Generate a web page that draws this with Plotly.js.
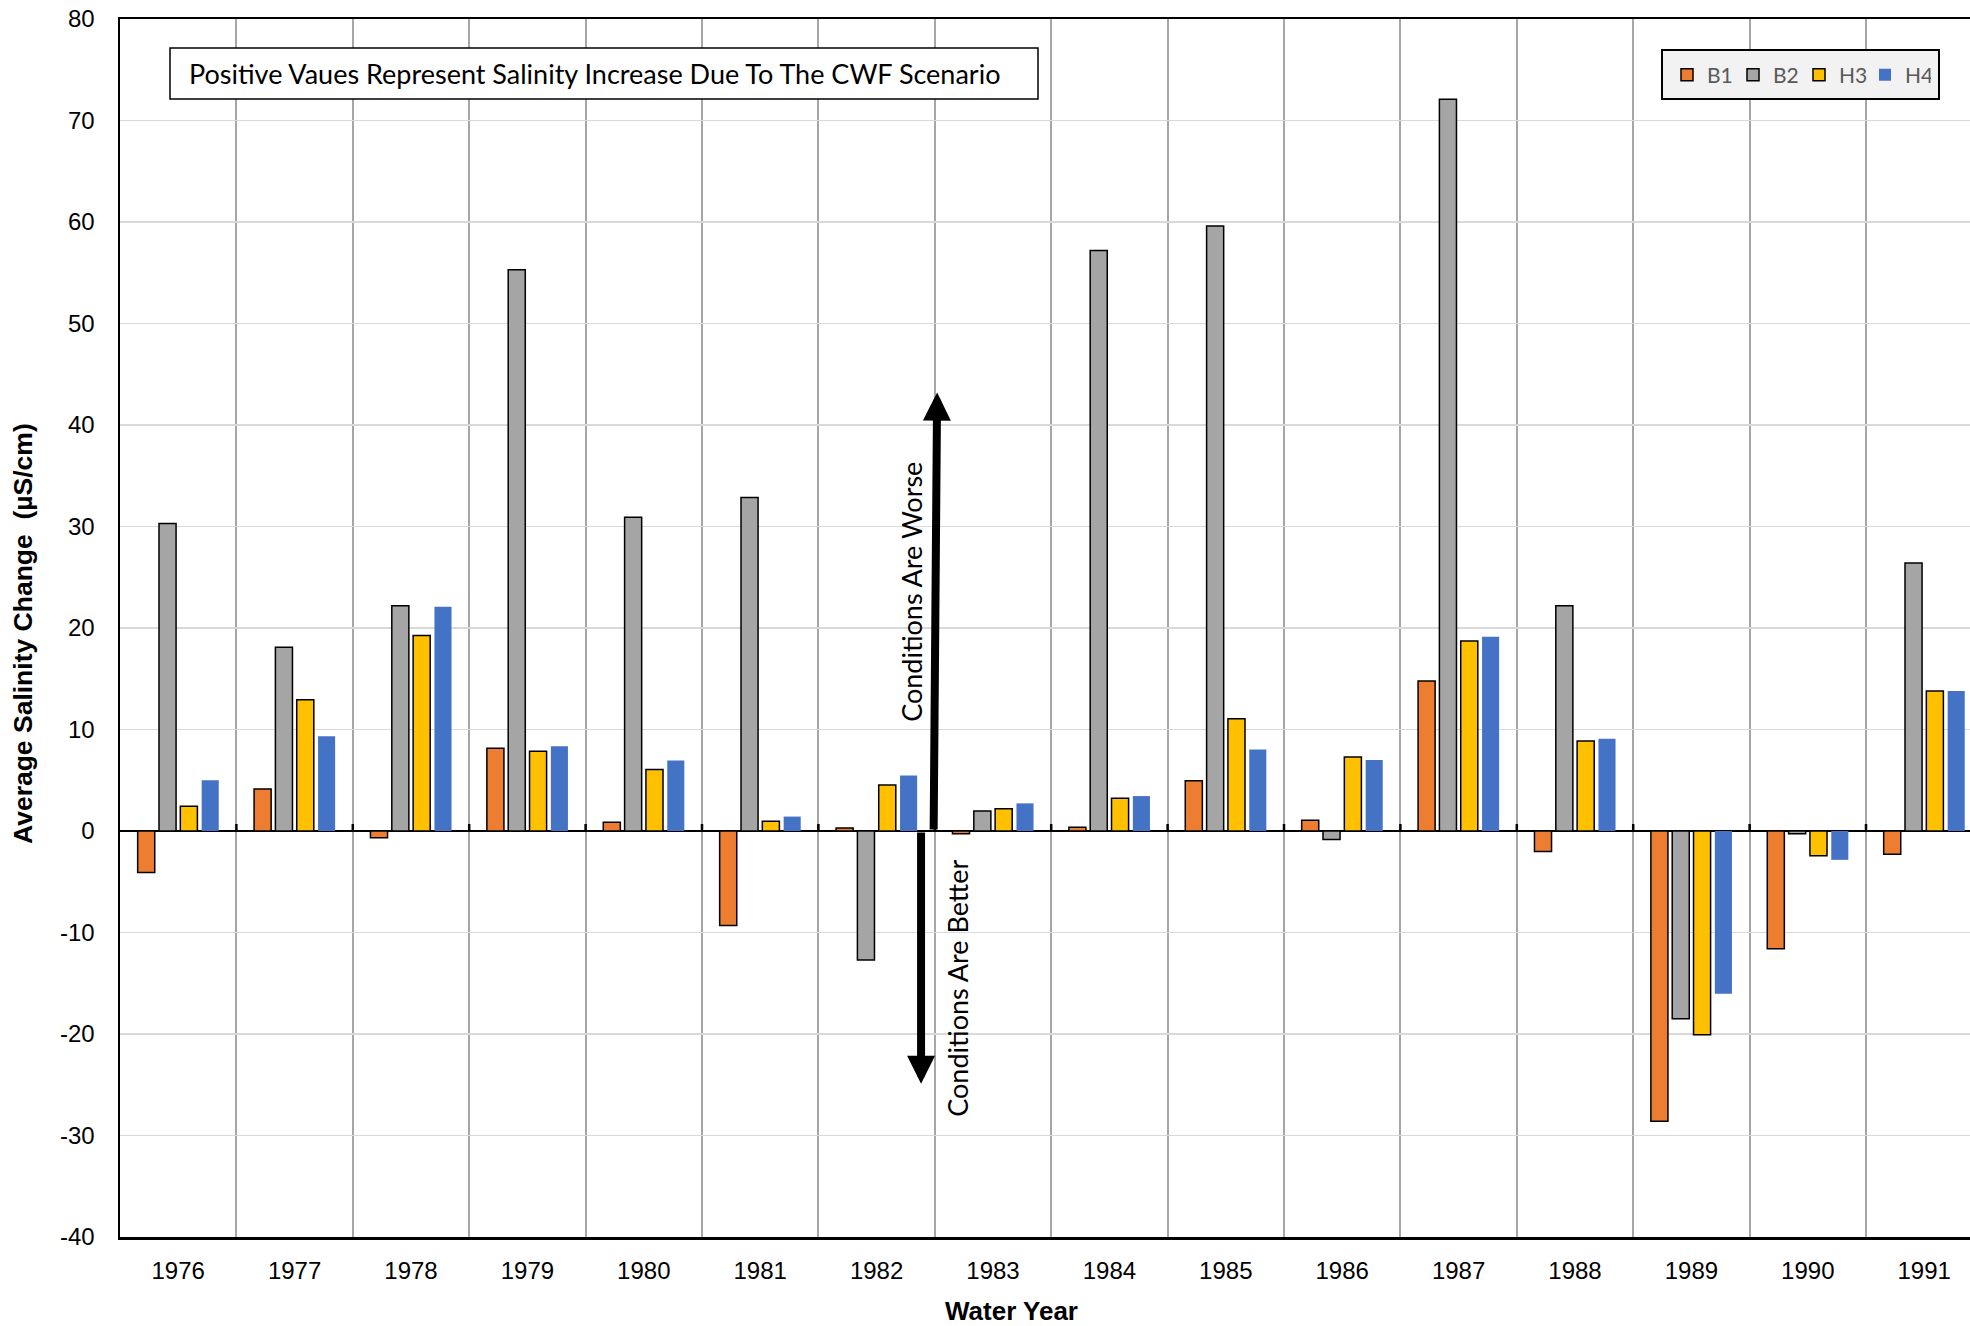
<!DOCTYPE html>
<html>
<head>
<meta charset="utf-8">
<script src="https://cdn.plot.ly/plotly-3.0.1.min.js"></script>
<style>html,body{margin:0;padding:0;background:#fff;}#chart{width:1970px;height:1326px;}</style>
</head>
<body>
<div id="chart"></div>
<script>
// ---- data ----
const years = ['1976','1977','1978','1979','1980','1981','1982','1983','1984','1985','1986','1987','1988','1989','1990','1991'];
const seriesNames = ['B1','B2','H3','H4'];
const B1 = [-4.1, 4.15, -0.67, 8.15, 0.86, -9.3, 0.29, -0.27, 0.36, 4.95, 1.06, 14.78, -2.02, -28.6, -11.6, -2.28];
const B2 = [30.3, 18.1, 22.2, 55.3, 30.9, 32.85, -12.7, 1.98, 57.2, 59.6, -0.83, 72.1, 22.2, -18.5, -0.28, 26.4];
const H3 = [2.44, 12.94, 19.27, 7.85, 6.06, 0.96, 4.53, 2.2, 3.22, 11.06, 7.28, 18.73, 8.87, -20.07, -2.45, 13.8];
const H4 = [5.0, 9.33, 22.1, 8.35, 6.95, 1.42, 5.48, 2.72, 3.44, 8.02, 7.0, 19.15, 9.1, -16.03, -2.84, 13.8];
const yTicks = [-40,-30,-20,-10,0,10,20,30,40,50,60,70,80];

const noteText = 'Positive Vaues Represent Salinity Increase Due To The CWF Scenario';
const worseText = 'Conditions Are Worse';
const betterText = 'Conditions Are Better';
const xTitle = 'Water Year';
const yTitle = 'Average Salinity Change\u00a0 (µS/cm)';

// ---- styles ----
const colors = ['#ED7D31','#A5A5A5','#FFC000','#4472C4'];
const outline = [1.5, 1.5, 1.5, 0];
const values = [B1, B2, H3, H4];

const traces = values.map((v, i) => ({
  type: 'bar',
  name: seriesNames[i],
  x: years,
  y: v,
  marker: {color: colors[i], line: {color: '#000', width: outline[i]}}
}));

const W = 1970, H = 1326;
const m = {l: 120, r: 0, t: 19, b: 89};
const pw = W - m.l - m.r, ph = H - m.t - m.b;
const catW = 116.4;
const px2x = p => (p - m.l) / pw;          // page px -> paper x
const py2y = p => (H - m.b - p) / ph;      // page px -> paper y

// small tick marks on the zero line at category boundaries
const shapes = [];
for (let i = 1; i < years.length; i++) {
  shapes.push({type:'line', xref:'x', yref:'y', x0:i-0.5, x1:i-0.5, ysizemode:'pixel', yanchor:0, y0:0, y1:7,
    line:{color:'#000', width:2.5}});
}
// note box
shapes.push({type:'rect', xref:'paper', yref:'paper', x0:px2x(170), x1:px2x(1038), y0:py2y(99), y1:py2y(48),
  line:{color:'#000', width:1.5}, fillcolor:'#fff', layer:'above'});
// legend box
shapes.push({type:'rect', xref:'paper', yref:'paper', x0:px2x(1662), x1:px2x(1939), y0:py2y(99), y1:py2y(50),
  line:{color:'#000', width:2}, fillcolor:'#F2F2F2', layer:'above'});

const annFont = {family:'Lato, Calibri, sans-serif', size:27, color:'#000'};
const titleFont = (s) => ({family:'Liberation Sans, Arial, sans-serif', size:s, color:'#000'});

const annotations = [
  {xref:'paper', yref:'paper', x:px2x(187), y:py2y(73.5), xanchor:'left', yanchor:'middle', showarrow:false,
   text:noteText, font:annFont},
  // arrows
  {xref:'x', yref:'y', axref:'x', ayref:'y', x:6.52, y:43.2, ax:6.49, ay:0, text:'', showarrow:true,
   arrowhead:2, arrowsize:0.7, arrowwidth:8, arrowcolor:'#000', standoff:0, startstandoff:0},
  {xref:'x', yref:'y', axref:'x', ayref:'y', x:6.382, y:-24.9, ax:6.382, ay:0, text:'', showarrow:true,
   arrowhead:2, arrowsize:0.7, arrowwidth:8, arrowcolor:'#000', standoff:0, startstandoff:0},
  {xref:'x', yref:'y', x:6.299, y:23.6, text:worseText, textangle:-90, showarrow:false, font:annFont,
   xanchor:'center', yanchor:'middle'},
  {xref:'x', yref:'y', x:6.694, y:-15.5, text:betterText, textangle:-90, showarrow:false, font:annFont,
   xanchor:'center', yanchor:'middle'},
  // axis titles
  {xref:'paper', yref:'paper', x:px2x(1011), y:py2y(1311), xanchor:'center', yanchor:'middle', showarrow:false,
   text:'<b>'+xTitle+'</b>', font:titleFont(26)},
  {xref:'paper', yref:'paper', x:px2x(23), y:py2y(634), xanchor:'center', yanchor:'middle', showarrow:false,
   textangle:-90, text:'<b>'+yTitle+'</b>', font:titleFont(26.5)}
];

const layout = {
  width: W, height: H,
  margin: m,
  paper_bgcolor: '#fff', plot_bgcolor: '#fff',
  barmode: 'group', bargap: 0.267, bargroupgap: 0.2,
  showlegend: true,
  legend: {orientation:'h', x:px2x(1667), y:py2y(75), xanchor:'left', yanchor:'middle',
    bgcolor:'rgba(0,0,0,0)', borderwidth:0, entrywidth:21, itemwidth:30,
    font:{family:'Lato, Calibri, sans-serif', size:21, color:'#595959'}, traceorder:'normal'},
  xaxis: {type:'category', range:[-0.5, -0.5 + pw / catW], tickson:'boundaries',
    showgrid:true, gridcolor:'#A6A6A6', gridwidth:2,
    showline:true, linecolor:'#000', linewidth:2.5, mirror:true,
    ticks:'', ticklabelstandoff:11,
    tickfont:{family:'Liberation Sans, Arial, sans-serif', size:24, color:'#000'},
    zeroline:false, fixedrange:true},
  yaxis: {range:[-40, 80], tickvals:yTicks, ticktext:yTicks.map(String),
    showgrid:true, gridcolor:'#D9D9D9', gridwidth:1.5,
    showline:true, linecolor:'#000', linewidth:2.5, mirror:false,
    zeroline:true, zerolinecolor:'#000', zerolinewidth:2.5,
    ticks:'', ticklabelstandoff:18,
    tickfont:{family:'Liberation Sans, Arial, sans-serif', size:24, color:'#000'}},
  shapes: shapes,
  annotations: annotations
};

Plotly.newPlot('chart', traces, layout, {displayModeBar:false, staticPlot:true});
</script>
</body>
</html>
